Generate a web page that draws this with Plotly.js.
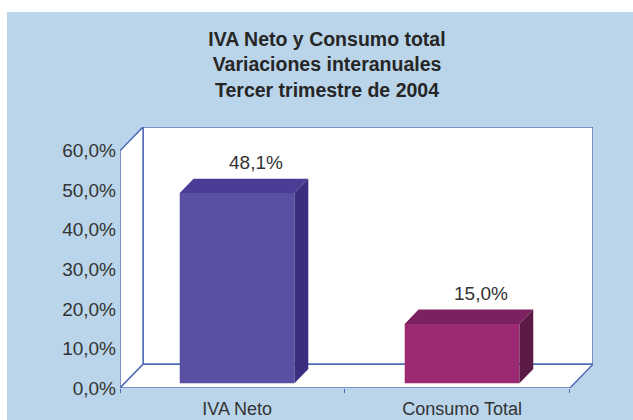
<!DOCTYPE html>
<html>
<head>
<meta charset="utf-8">
<script src="https://cdn.plot.ly/plotly-3.0.1.min.js"></script>
<style>
  html, body { margin: 0; padding: 0; background: #ffffff; width: 633px; height: 420px; overflow: hidden; }
  #chart { position: absolute; left: 7px; top: 12px; width: 626px; height: 408px; }
</style>
</head>
<body>
<div id="chart"></div>
<script>
// ---- data ----
const categories = ['IVA Neto', 'Consumo Total'];
const values = [48.1, 15.0];
const valueLabels = ['48,1%', '15,0%'];
const yTickVals = [0, 10, 20, 30, 40, 50, 60];
const yTickText = ['0,0%', '10,0%', '20,0%', '30,0%', '40,0%', '50,0%', '60,0%'];

// ---- styling / geometry constants ----
const frontColors = ['#5a50a3', '#9c2a73'];
const topColors   = ['#4a3d96', '#7b2160'];
const sideColors  = ['#3b2e80', '#5c1a46'];
const edge = '#4f6cb6';
const Y_MAX = 60;          // top of the wall
const DX = 0.1025;         // depth offset (x units)
const DY = 6.03;           // depth offset (y units)
const BW = 0.51;           // bar width
const F0 = 0.2, F1 = 0.8;  // bar front/back inside depth
const x0 = -0.5, x1 = categories.length - 0.5;

const pos = categories.map((c, i) => i);
const ox = F0 * DX, oy = F0 * DY;
const bdx = (F1 - F0) * DX, bdy = (F1 - F0) * DY;

function path(pts) {
  return 'M ' + pts.map(p => p[0] + ',' + p[1]).join(' L ') + ' Z';
}

const shapes = [
  // back wall
  { type: 'path', xref: 'x', yref: 'y', layer: 'below',
    path: path([[x0 + DX, DY], [x1 + DX, DY], [x1 + DX, Y_MAX + DY], [x0 + DX, Y_MAX + DY]]),
    fillcolor: '#ffffff', line: { color: edge, width: 1.5 } },
  // left wall
  { type: 'path', xref: 'x', yref: 'y', layer: 'below',
    path: path([[x0, 0], [x0 + DX, DY], [x0 + DX, Y_MAX + DY], [x0, Y_MAX]]),
    fillcolor: '#ffffff', line: { color: edge, width: 1.5 } },
  // floor
  { type: 'path', xref: 'x', yref: 'y', layer: 'below',
    path: path([[x0, 0], [x1, 0], [x1 + DX, DY], [x0 + DX, DY]]),
    fillcolor: '#ffffff', line: { color: edge, width: 1.5 } }
];

const traces = [];
// front faces as a real bar trace
traces.push({
  type: 'bar',
  x: pos.map(p => p + ox),
  y: values,
  base: values.map(() => oy),
  width: BW,
  marker: { color: frontColors, line: { width: 0 } },
  hoverinfo: 'skip',
  showlegend: false
});
// top and side faces
values.forEach((v, i) => {
  const l = pos[i] - BW / 2 + ox, r = pos[i] + BW / 2 + ox;
  const b = oy, t = v + oy;
  traces.push({
    type: 'scatter', mode: 'lines', fill: 'toself', fillcolor: topColors[i],
    line: { width: 0, color: topColors[i] }, hoverinfo: 'skip', showlegend: false,
    x: [l, r, r + bdx, l + bdx, l],
    y: [t, t, t + bdy, t + bdy, t]
  });
  traces.push({
    type: 'scatter', mode: 'lines', fill: 'toself', fillcolor: sideColors[i],
    line: { width: 0, color: sideColors[i] }, hoverinfo: 'skip', showlegend: false,
    x: [r, r + bdx, r + bdx, r, r],
    y: [b, b + bdy, t + bdy, t, b]
  });
});

const annotations = values.map((v, i) => ({
  x: pos[i] + DX, y: v + DY, xref: 'x', yref: 'y',
  text: valueLabels[i], showarrow: false, yanchor: 'middle', yshift: 11,
  font: { family: 'Liberation Sans, Arial, sans-serif', size: 19, color: '#333333' }
}));

const layout = {
  width: 626, height: 408,
  margin: { l: 113, r: 40, t: 115, b: 32, pad: 0 },
  paper_bgcolor: '#bad5ea',
  plot_bgcolor: 'rgba(0,0,0,0)',
  showlegend: false,
  title: {
    text: '<b>IVA Neto y Consumo total<br>Variaciones interanuales<br>Tercer trimestre de 2004</b>',
    font: { family: 'Liberation Sans, Arial, sans-serif', size: 19.5, color: '#262626' },
    xref: 'container', yref: 'container',
    x: 320 / 626, xanchor: 'center',
    y: 1 - 34 / 408, yanchor: 'middle'
  },
  xaxis: {
    range: [x0, x1 + DX],
    tickmode: 'array', tickvals: pos.map(p => p + ox), ticktext: categories,
    ticks: '', showgrid: false, zeroline: false, showline: false,
    tickfont: { family: 'Liberation Sans, Arial, sans-serif', size: 18, color: '#333333' },
    ticklabelstandoff: 8,
    minor: { tickmode: 'array', tickvals: [x0, 0.5, x1], ticks: 'outside', ticklen: 4, tickwidth: 1, tickcolor: edge },
    fixedrange: true
  },
  yaxis: {
    range: [0, 66],
    tickmode: 'array', tickvals: yTickVals, ticktext: yTickText,
    ticks: '', showgrid: false, zeroline: false, showline: false,
    tickfont: { family: 'Liberation Sans, Arial, sans-serif', size: 19, color: '#333333' },
    ticklabelstandoff: 3,
    fixedrange: true
  },
  shapes: shapes,
  annotations: annotations
};

Plotly.newPlot('chart', traces, layout, { staticPlot: true, displayModeBar: false });
</script>
</body>
</html>
